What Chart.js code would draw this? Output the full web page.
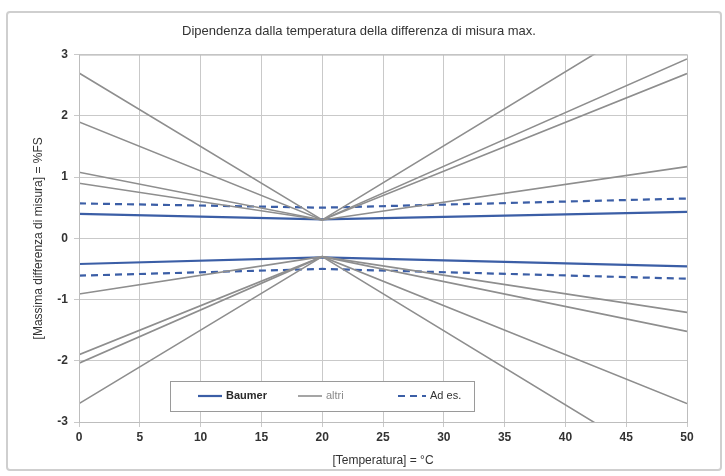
<!DOCTYPE html>
<html>
<head>
<meta charset="utf-8">
<script src="https://cdn.jsdelivr.net/npm/chart.js@4"></script>
<style>
  html, body { margin: 0; padding: 0; background: #fff; }
  #wrap { width: 725px; height: 476px; }
</style>
</head>
<body>
<div id="wrap"><canvas id="chart" width="725" height="476"></canvas></div>
<script>
// --- data ---
const temps = [0, 20, 50];
const xTicks = [0, 5, 10, 15, 20, 25, 30, 35, 40, 45, 50];
const yTicks = [-3, -2, -1, 0, 1, 2, 3];

const baumerUp = [0.40, 0.31, 0.43];
const baumerDown = [-0.42, -0.31, -0.46];
const esUp = [0.57, 0.50, 0.65];
const esDown = [-0.61, -0.50, -0.66];

const altri1 = [2.70, 0.30, 3.93];
const altri2 = [1.90, 0.30, 2.93];
const altri3 = [1.08, 0.30, 2.69];
const altri4 = [0.90, 0.30, 1.17];
const altri5 = [-0.91, -0.30, -1.21];
const altri6 = [-1.90, -0.30, -1.52];
const altri7 = [-2.04, -0.30, -2.70];
const altri8 = [-2.70, -0.30, -3.93];

const BLUE = '#3b5ea6';
const GRAY = '#8e8e8e';
const FONT = '"Liberation Sans", Arial';

const pts = vals => vals.map((v, i) => ({ x: temps[i], y: v }));

const grayLine = vals => ({
    label: 'altri', data: pts(vals), borderColor: GRAY, borderWidth: 1.6,
    pointRadius: 0, fill: false, tension: 0
});
const blueLine = (vals, dashed) => ({
    label: dashed ? 'Ad es.' : 'Baumer', data: pts(vals), borderColor: BLUE,
    borderWidth: 2.2, borderDash: dashed ? [7, 5] : [], pointRadius: 0, fill: false, tension: 0
});

// frame round the whole picture + plot border
const frame = {
    id: 'frame',
    beforeDraw(chart) {
        const c = chart.ctx;
        c.save();
        c.fillStyle = '#fff';
        c.fillRect(0, 0, chart.width, chart.height);
        c.strokeStyle = '#cfcfcf';
        c.lineWidth = 2;
        c.beginPath();
        c.roundRect(7, 12, 714, 458, 3);
        c.stroke();
        c.restore();
    },
    afterDraw(chart) {
        const a = chart.chartArea, c = chart.ctx;
        c.save();
        c.strokeStyle = '#bdbdbd';
        c.lineWidth = 1;
        c.strokeRect(a.left + 0.5, a.top + 0.5, a.right - a.left, a.bottom - a.top);
        c.restore();
    }
};

// legend box inside the plot
const boxLegend = {
    id: 'boxLegend',
    afterDraw(chart) {
        const c = chart.ctx;
        const top = 381, bot = 411, left = 170, right = 474;
        const cy = (top + bot) / 2;
        c.save();
        c.fillStyle = '#fff';
        c.fillRect(left, top, right - left, bot - top);
        c.strokeStyle = '#9a9a9a';
        c.lineWidth = 1;
        c.strokeRect(left + 0.5, top + 0.5, right - left, bot - top);
        c.textBaseline = 'middle';
        const items = [
            { x: 198, w: 24, color: BLUE, width: 2.2, dash: [], text: 'Baumer', font: 'bold 11px ' + FONT, tc: '#2a2a2a' },
            { x: 298, w: 24, color: GRAY, width: 1.6, dash: [], text: 'altri', font: '11px ' + FONT, tc: '#8a8a8a' },
            { x: 398, w: 28, color: BLUE, width: 2.2, dash: [7, 5], text: 'Ad es.', font: '11px ' + FONT, tc: '#333' }
        ];
        items.forEach(it => {
            c.strokeStyle = it.color;
            c.lineWidth = it.width;
            c.setLineDash(it.dash);
            c.beginPath();
            c.moveTo(it.x, cy);
            c.lineTo(it.x + it.w, cy);
            c.stroke();
            c.setLineDash([]);
            c.font = it.font;
            c.fillStyle = it.tc;
            c.fillText(it.text, it.x + it.w + 4, cy);
        });
        c.restore();
    }
};

new Chart(document.getElementById('chart'), {
    type: 'line',
    data: {
        datasets: [
            grayLine(altri1), grayLine(altri2), grayLine(altri3), grayLine(altri4),
            grayLine(altri5), grayLine(altri6), grayLine(altri7), grayLine(altri8),
            blueLine(esUp, true), blueLine(esDown, true),
            blueLine(baumerUp, false), blueLine(baumerDown, false)
        ]
    },
    plugins: [frame, boxLegend],
    options: {
        responsive: false,
        animation: false,
        layout: { padding: { top: 18, left: 31, right: 38, bottom: 8 } },
        plugins: {
            legend: { display: false },
            tooltip: { enabled: false },
            title: {
                display: true,
                text: 'Dipendenza dalla temperatura della differenza di misura max.',
                color: '#333',
                font: { family: FONT, size: 13, weight: 'normal' },
                padding: { top: 6, bottom: 15 }
            }
        },
        scales: {
            x: {
                type: 'linear', min: 0, max: 50,
                afterBuildTicks: s => { s.ticks = xTicks.map(v => ({ value: v })); },
                ticks: { color: '#333', font: { family: FONT, size: 12, weight: 'bold' }, padding: 3 },
                grid: { color: '#c9c9c9', lineWidth: 1, tickLength: 5 },
                border: { display: false },
                title: {
                    display: true, text: '[Temperatura] = °C', color: '#333',
                    font: { family: FONT, size: 12 }, padding: { top: 7, bottom: 0 }
                },
                afterFit: s => { s.height = 46; }
            },
            y: {
                type: 'linear', min: -3, max: 3,
                afterBuildTicks: s => { s.ticks = yTicks.map(v => ({ value: v })); },
                ticks: { color: '#333', font: { family: FONT, size: 12, weight: 'bold' }, padding: 6 },
                grid: { color: '#c9c9c9', lineWidth: 1, tickLength: 5 },
                border: { display: false },
                title: {
                    display: true, text: '[Massima differenza di misura] = %FS', color: '#333',
                    font: { family: FONT, size: 12 }, padding: { top: 0, bottom: 4 }
                },
                afterFit: s => { s.width = 48; }
            }
        }
    }
});
</script>
</body>
</html>
